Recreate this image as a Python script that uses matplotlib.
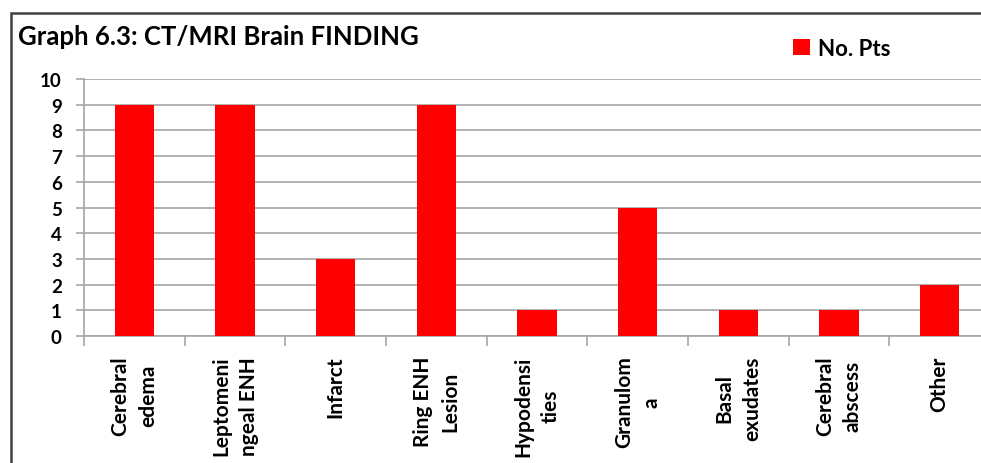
import matplotlib.pyplot as plt
from matplotlib.patches import Rectangle

# data
categories = ["Cerebral\nedema", "Leptomeni\nngeal ENH", "Infarct", "Ring ENH\nLesion",
              "Hypodensi\nties", "Granulom\na", "Basal\nexudates", "Cerebral\nabscess", "Other"]
no_pts = [9, 9, 3, 9, 1, 5, 1, 1, 2]

plt.rcParams['font.family'] = ['Lato', 'DejaVu Sans']
plt.rcParams['font.weight'] = 'bold'

W, H = 981, 464
fig = plt.figure(figsize=(W / 100, H / 100), dpi=100)

# axes run a little past the right edge, as in the cropped reference
left, right, top, bottom = 84, 990, 80, 337
ax = fig.add_axes([left / W, 1 - bottom / H, (right - left) / W, (bottom - top) / H])

x = list(range(len(categories)))
ax.bar(x, no_pts, width=0.39, color='#FF0000', label='No. Pts', zorder=3)

ax.set_xlim(-0.5, len(categories) - 0.5)
ax.set_ylim(0, 10)
ax.set_yticks(range(0, 11))
ax.grid(axis='y', color='#A6A6A6', linewidth=1.2, zorder=0)

ax.set_xticks(x)
ax.set_xticklabels(categories, rotation=90, va='top', ha='center', linespacing=1.45,
                   multialignment='center', fontsize=15, fontweight='bold')
ax.set_xticks([i - 0.5 for i in range(len(categories) + 1)], minor=True)
ax.tick_params(axis='x', which='major', length=0, pad=14)
ax.tick_params(axis='x', which='minor', length=7, width=1.2, color='#A6A6A6', direction='out')
ax.tick_params(axis='y', length=6, width=1.2, color='#A6A6A6', pad=10, labelsize=13.5)
for lab in ax.get_yticklabels():
    lab.set_fontweight('bold')

for side in ['top', 'right']:
    ax.spines[side].set_visible(False)
for side in ['left', 'bottom']:
    ax.spines[side].set_color('#A6A6A6')
    ax.spines[side].set_linewidth(1.2)

fig.text(18 / W, 1 - 37 / H, "Graph 6.3: CT/MRI Brain FINDING", fontsize=18.5,
         fontweight='bold', va='center', ha='left')

fig.legend(loc='center left', bbox_to_anchor=(782 / W, 1 - 49 / H), frameon=False,
           borderpad=0, handlelength=0.75, handleheight=0.75, handletextpad=0.35,
           prop={'size': 16, 'weight': 'bold'})

# outer chart border (cropped on the right and bottom)
fig.patches.append(Rectangle((10.5 / W, -0.1), 1.2, 1 - 14 / H + 0.1, transform=fig.transFigure,
                             fill=False, edgecolor='#404040', linewidth=1.8))

fig.savefig('out.png', dpi=100)
